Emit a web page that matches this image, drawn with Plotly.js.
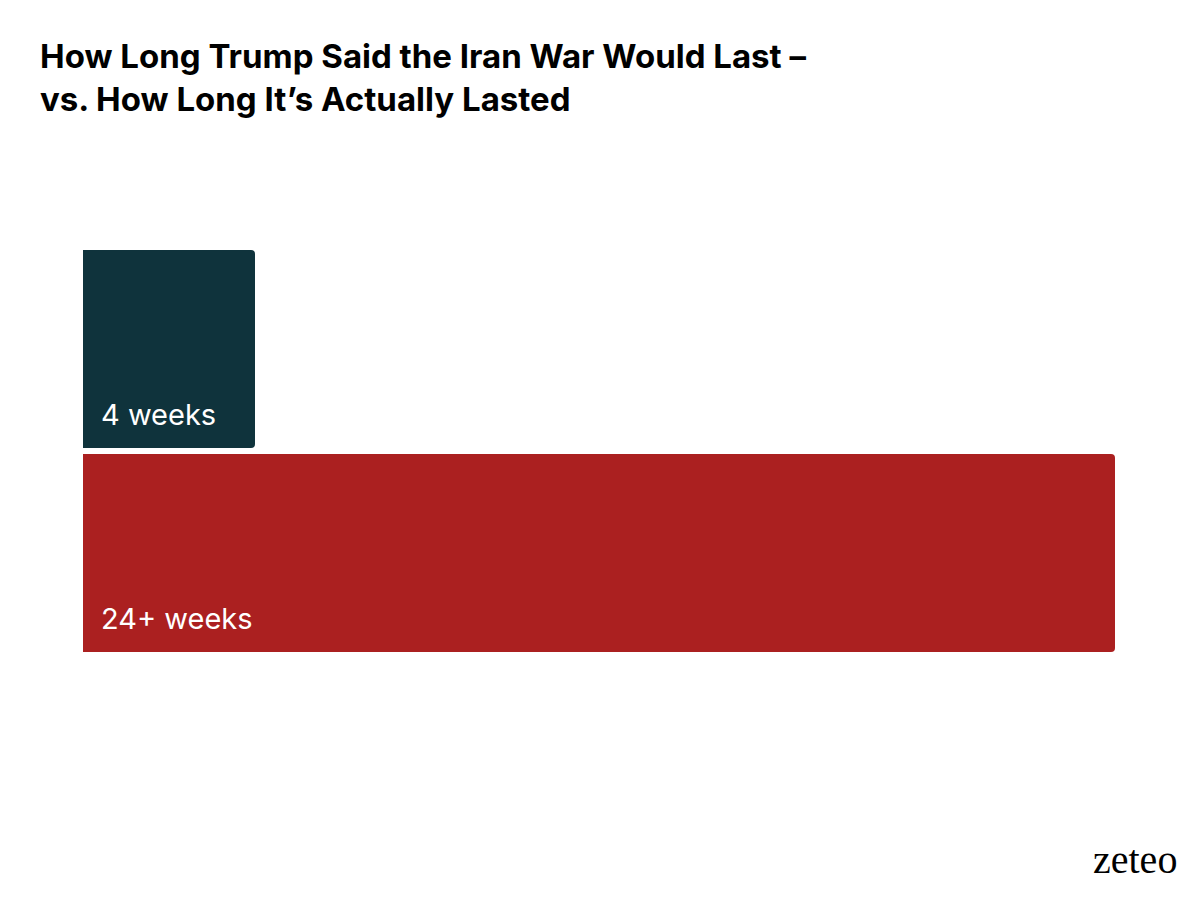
<!DOCTYPE html>
<html>
<head>
<meta charset="utf-8">
<script src="https://cdn.plot.ly/plotly-3.0.1.min.js"></script>
<style>
  body { margin: 0; background: #fff; }
  #chart { width: 1200px; height: 900px; }
</style>
</head>
<body>
<div id="chart"></div>
<script>
// data
var categories = ['Said', 'Actual'];
var weeks = [4, 24];
var labels = ['4 weeks', '24+ weeks'];
var colors = ['#0f333c', '#ab2020'];

var trace = {
  type: 'bar',
  orientation: 'h',
  y: categories,
  x: weeks,
  marker: { color: colors, cornerradius: 4 },
  hoverinfo: 'none'
};

// labels sit low-left inside each bar
var notes = categories.map(function (c, i) {
  return {
    x: 0, y: c, xref: 'x', yref: 'y',
    xanchor: 'left', yanchor: 'middle',
    xshift: 16, yshift: -65,
    text: labels[i], showarrow: false,
    font: { family: 'Inter, sans-serif', size: 29, color: '#ffffff' }
  };
});

notes.push({
  xref: 'paper', yref: 'paper', x: 1.062, y: -0.5,
  xanchor: 'right', yanchor: 'middle',
  text: 'zeteo', showarrow: false,
  font: { family: '"Liberation Serif", serif', size: 40, color: '#000' }
});

var layout = {
  width: 1200, height: 900,
  paper_bgcolor: '#ffffff', plot_bgcolor: '#ffffff',
  margin: { l: 83, r: 85, t: 247, b: 245 },
  title: {
    text: 'How Long Trump Said the Iran War Would Last –<br>vs. How Long It’s Actually Lasted',
    x: 40 / 1200, xref: 'container', xanchor: 'left',
    y: 1 - 68 / 900, yref: 'container', yanchor: 'top',
    font: { family: 'Inter, sans-serif', size: 33, color: '#000', weight: 700 }
  },
  xaxis: { range: [0, 24], visible: false, fixedrange: true },
  yaxis: { autorange: 'reversed', visible: false, fixedrange: true },
  bargap: 0.03,
  showlegend: false,
  annotations: notes
};

Plotly.newPlot('chart', [trace], layout, { displayModeBar: false, staticPlot: true });
</script>
</body>
</html>
